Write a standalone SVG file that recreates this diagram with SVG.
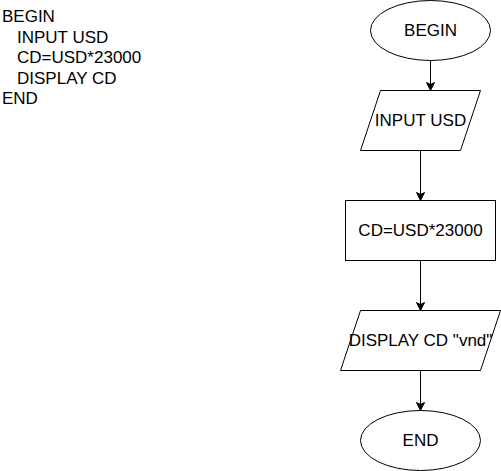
<svg xmlns="http://www.w3.org/2000/svg" width="501" height="471" viewBox="0 0 501 471">
<defs>
<marker id="arr" markerWidth="10" markerHeight="10" refX="8" refY="5" orient="auto" markerUnits="userSpaceOnUse">
<path d="M1,1 L9,5 L1,9 L3,5 Z" fill="#000" stroke="#000" stroke-width="1"/>
</marker>
</defs>
<style>
text{font-family:"Liberation Sans",Arial,sans-serif;font-size:17px;fill:#000}
.c{text-anchor:middle;dominant-baseline:central}
.s{fill:#fff;stroke:#000;stroke-width:1}
.e{fill:none;stroke:#000;stroke-width:1;marker-end:url(#arr)}
</style>
<rect width="501" height="471" fill="#fff"/>
<g id="pseudocode">
<text x="2" y="22">BEGIN</text>
<text x="17" y="42.5">INPUT USD</text>
<text x="17" y="63">CD=USD*23000</text>
<text x="17" y="83.5">DISPLAY CD</text>
<text x="2" y="104">END</text>
</g>
<g id="connectors">
<path class="e" d="M430.5,60.5 L430.5,89.5"/>
<path class="e" d="M420.5,150.5 L420.5,199.5"/>
<path class="e" d="M420.5,260.5 L420.5,309.5"/>
<path class="e" d="M420.5,370.5 L420.5,409.5"/>
</g>
<g id="begin">
<ellipse class="s" cx="430.5" cy="30.5" rx="60" ry="30"/>
<text class="c" x="430.5" y="30.5">BEGIN</text>
</g>
<g id="input">
<path class="s" d="M380.5,90.5 L480.5,90.5 L460.5,150.5 L360.5,150.5 Z"/>
<text class="c" x="420.5" y="120.5">INPUT USD</text>
</g>
<g id="process">
<rect class="s" x="345.5" y="200.5" width="150" height="60"/>
<text class="c" x="420.5" y="230.5">CD=USD*23000</text>
</g>
<g id="display">
<path class="s" d="M360.5,310.5 L500.5,310.5 L480.5,370.5 L340.5,370.5 Z"/>
<text class="c" x="420.5" y="340.5">DISPLAY CD "vnd"</text>
</g>
<g id="end">
<ellipse class="s" cx="420.5" cy="440.5" rx="60" ry="30"/>
<text class="c" x="420.5" y="440.5">END</text>
</g>
</svg>
